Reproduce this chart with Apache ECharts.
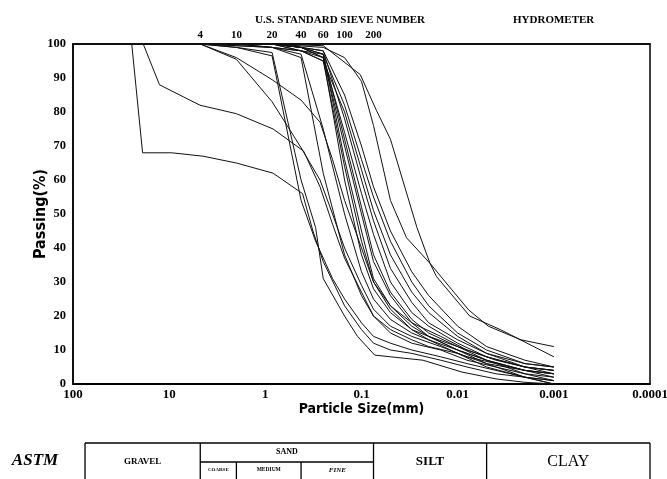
<!DOCTYPE html>
<html><head><meta charset="utf-8">
<script src="https://cdn.jsdelivr.net/npm/echarts@6/dist/echarts.min.js"></script>
<style>html,body{margin:0;padding:0;background:#fff}#main{width:667px;height:479px}</style>
</head><body><div id="main"></div>
<script>
// ---- axis / label data ----
const xTickLabels = ['100','10','1','0.1','0.01','0.001','0.0001'];
const yTicks = [0,10,20,30,40,50,60,70,80,90,100];
const sieveSizes = [4.75, 2.0, 0.85, 0.425, 0.25, 0.15, 0.075];
const sieveNumbers = ['4','10','20','40','60','100','200'];
// ASTM classification boundaries (mm)
const tableBounds = [75, 4.75, 2.0, 0.425, 0.075, 0.005, 0.0001];

// ---- gradation curves: [particle size mm, passing %] ----
const curveG1 = [[24.5,100],[18.9,68],[9.4,68],[4.45,67],[2.0,65],[0.83,62],[0.41,56],[0.32,45],[0.25,36],[0.15,23],[0.1,16],[0.075,12],[0.05,10],[0.03,9],[0.015,7],[0.008,5],[0.004,3],[0.002,2],[0.001,1]];
const curveG2 = [[18.6,100],[12.6,88],[4.78,82],[2.0,79.5],[0.83,75],[0.40,68.5],[0.27,58],[0.2,47],[0.15,37],[0.1,27],[0.075,20],[0.05,15],[0.03,12],[0.015,10],[0.008,7],[0.004,5],[0.002,3],[0.001,2]];
const curveS1 = [[4.75,100],[2.0,95.5],[0.85,83],[0.425,69.5],[0.27,60],[0.2,50],[0.15,40],[0.1,29],[0.075,22],[0.05,17],[0.03,14],[0.015,11],[0.008,8],[0.004,6],[0.002,4],[0.001,3]];
const curveS2 = [[4.75,100],[2.0,96],[0.85,89.5],[0.425,83.5],[0.27,77],[0.2,66],[0.15,54],[0.1,40],[0.075,30],[0.05,23],[0.03,18],[0.015,14],[0.008,10],[0.004,7],[0.002,5],[0.001,4]];
const curveM1 = [[4.75,100],[2.0,99],[0.85,96.5],[0.425,54],[0.3,42],[0.2,31],[0.15,25],[0.1,18],[0.075,14],[0.05,12],[0.03,10],[0.015,8],[0.008,6],[0.004,4],[0.002,2],[0.001,1]];
const curveM2 = [[4.75,100],[2.0,99],[0.85,97.5],[0.425,60],[0.3,46],[0.25,31],[0.15,20],[0.11,14],[0.073,8.5],[0.05,8],[0.023,7],[0.009,3.5],[0.004,1.5],[0.002,0.5],[0.001,0]];
const curveB1 = [[4.75,100],[2.0,99.5],[0.85,99],[0.425,96],[0.25,62],[0.15,38],[0.1,26],[0.075,20],[0.05,16],[0.03,13],[0.02,11],[0.01,9],[0.005,6],[0.002,4],[0.001,3]];
const curveB2 = [[4.75,100],[2.0,99.5],[0.85,99],[0.425,97],[0.25,75],[0.15,50],[0.1,33],[0.075,25],[0.05,19],[0.03,15],[0.02,13],[0.01,10],[0.005,7],[0.002,4],[0.001,3]];
const curveB3 = [[4.75,100],[2.0,100],[0.85,99],[0.425,98],[0.25,96],[0.15,60],[0.1,38],[0.075,28],[0.05,21],[0.03,16],[0.02,14],[0.01,11],[0.005,8],[0.002,5],[0.001,4]];
const curveB4 = [[4.75,100],[2.0,100],[0.85,100],[0.425,98],[0.25,97],[0.15,66],[0.1,45],[0.075,31],[0.05,23],[0.03,17],[0.02,14],[0.01,10],[0.005,7],[0.002,4],[0.001,2]];
const curveB5 = [[4.75,100],[2.0,100],[0.85,100],[0.425,99],[0.25,97],[0.15,72],[0.1,52],[0.075,38],[0.05,27],[0.03,19],[0.02,15],[0.01,11],[0.005,7],[0.002,3],[0.001,1]];
const curveB6 = [[4.75,100],[2.0,100],[0.85,100],[0.425,99],[0.25,96],[0.15,74],[0.1,56],[0.075,44],[0.05,30],[0.03,21],[0.02,17],[0.01,12],[0.005,8],[0.002,5],[0.001,3]];
const curveB7 = [[4.75,100],[2.0,100],[0.85,100],[0.425,99],[0.25,98],[0.15,78],[0.1,60],[0.075,48],[0.05,34],[0.03,24],[0.02,18],[0.01,13],[0.005,9],[0.002,6],[0.001,5]];
const curveB8 = [[4.75,100],[2.0,100],[0.85,100],[0.425,98],[0.25,95],[0.15,80],[0.1,63],[0.075,51],[0.05,38],[0.03,27],[0.02,21],[0.01,14],[0.005,9],[0.002,5],[0.001,4]];
const curveB9 = [[4.75,100],[2.0,100],[0.85,100],[0.425,99],[0.25,97],[0.15,82],[0.1,66],[0.075,55],[0.05,42],[0.03,30],[0.02,23],[0.01,15],[0.005,10],[0.002,6],[0.001,5]];
const curveB10 = [[4.75,100],[2.0,100],[0.85,100],[0.425,99],[0.25,98],[0.15,85],[0.1,70],[0.075,58],[0.05,45],[0.03,33],[0.02,26],[0.01,17],[0.005,11],[0.002,7],[0.001,5]];
const curveB11 = [[4.75,100],[2.0,100],[0.85,100],[0.425,99],[0.25,96],[0.15,70],[0.1,50],[0.075,36],[0.05,26],[0.03,18],[0.02,14],[0.01,10],[0.005,6],[0.002,2],[0.001,0]];
const curveB12 = [[4.75,100],[2.0,100],[0.85,99],[0.425,98],[0.25,95],[0.15,64],[0.1,42],[0.075,30],[0.05,22],[0.03,16],[0.02,13],[0.01,9],[0.005,5],[0.002,2],[0.001,0]];
const curveR1 = [[4.75,100],[0.85,100],[0.25,99.5],[0.103,91],[0.07,80.5],[0.05,72],[0.0265,46],[0.0194,35.5],[0.0122,28.6],[0.0077,21.8],[0.0048,17],[0.0022,13],[0.001,11]];
const curveR2 = [[4.75,100],[0.85,100],[0.25,99],[0.15,96],[0.1,89],[0.075,76],[0.05,54],[0.034,43],[0.0194,35.5],[0.0166,31.6],[0.0075,20],[0.0036,16],[0.001,8]];

const curves = [curveG1,curveG2,curveS1,curveS2,curveM1,curveM2,curveB1,curveB2,curveB3,curveB4,curveB5,curveB6,curveB7,curveB8,curveB9,curveB10,curveB11,curveB12,curveR1,curveR2];

const NARROW = "'Liberation Sans Narrow','DejaVu Sans Condensed','Liberation Sans',sans-serif";
const SERIF = "'Liberation Serif','DejaVu Serif',serif";

const chart = echarts.init(document.getElementById('main'));
const option = {
  animation: false,
  backgroundColor: '#fff',
  title: [
    {text: 'U.S. STANDARD SIEVE NUMBER', left: 250, top: 10, textStyle: {fontFamily: SERIF, fontWeight: 'bold', fontSize: 11, color: '#000'}},
    {text: 'HYDROMETER', left: 508, top: 10, textStyle: {fontFamily: SERIF, fontWeight: 'bold', fontSize: 11, color: '#000'}}
  ],
  grid: {left: 73, right: 17, top: 44, bottom: 95, outerBoundsMode: 'none', containLabel: false,
         show: true, borderColor: '#000', borderWidth: 1.5, backgroundColor: 'transparent'},
  xAxis: [
    {type: 'log', logBase: 10, min: 0.0001, max: 100, interval: 1, inverse: true, position: 'bottom',
     name: 'Particle Size(mm)', nameLocation: 'middle', nameGap: 18, nameMoveOverlap: false,
     nameTextStyle: {fontFamily: NARROW, fontWeight: 'bold', fontSize: 14, color: '#000', verticalAlign: 'top'},
     axisLine: {show: true, lineStyle: {color: '#000', width: 1.8}}, axisTick: {show: false}, splitLine: {show: false},
     axisLabel: {margin: 4, fontFamily: SERIF, fontWeight: 'bold', fontSize: 13, color: '#000',
       formatter: v => xTickLabels[Math.round(Math.log10(100 / v))]}},
    {type: 'log', logBase: 10, min: 0.0001, max: 100, inverse: true, position: 'top',
     axisLine: {show: true, lineStyle: {color: '#000', width: 1.5}}, axisTick: {show: false}, splitLine: {show: false},
     axisLabel: {show: true, customValues: sieveSizes, margin: 3, fontFamily: SERIF, fontWeight: 'bold', fontSize: 11, color: '#000',
       formatter: v => { let best = 0; sieveSizes.forEach((s, i) => { if (Math.abs(Math.log10(s) - Math.log10(v)) < Math.abs(Math.log10(sieveSizes[best]) - Math.log10(v))) best = i; }); return sieveNumbers[best]; }}}
  ],
  yAxis: {type: 'value', min: 0, max: 100, interval: 10,
    name: 'Passing(%)', nameLocation: 'middle', nameGap: 24, nameRotate: 90, nameMoveOverlap: false,
    nameTextStyle: {fontFamily: NARROW, fontWeight: 'bold', fontSize: 16, color: '#000'},
    axisLine: {show: true, lineStyle: {color: '#000', width: 1.5}}, axisTick: {show: false}, splitLine: {show: false},
    axisLabel: {margin: 7, fontFamily: SERIF, fontWeight: 'bold', fontSize: 12.5, color: '#000',
      customValues: yTicks}},
  series: curves.map((c, i) => ({
    type: 'line', name: 'c' + i, data: c, xAxisIndex: 0, showSymbol: false, symbol: 'none',
    lineStyle: {color: '#111', width: 1}, silent: true, z: 3
  }))
};
chart.setOption(option);

// ---- ASTM classification table, columns placed through the x scale ----
const px = v => chart.convertToPixel({xAxisIndex: 0}, v);
const T0 = 443, T1 = 462, T2 = 482;
const xb = tableBounds.map(px);
const lineEl = (x1, y1, x2, y2) => ({type: 'line', shape: {x1, y1, x2, y2}, style: {stroke: '#000', lineWidth: 1.3}, silent: true});
const textEl = (x, y, t, size, font, weight, italic) => ({type: 'text', x, y, style: {text: t, fill: '#000', align: 'center', verticalAlign: 'middle',
  font: (italic ? 'italic ' : '') + (weight || 'bold') + ' ' + size + 'px ' + font}, silent: true});
const g = [];
g.push(lineEl(xb[0], T0, xb[6], T0));
g.push(lineEl(xb[0], T2, xb[6], T2));
[0, 1, 4, 5, 6].forEach(i => g.push(lineEl(xb[i], T0, xb[i], T2)));
g.push(lineEl(xb[1], T1, xb[4], T1));
[2, 3].forEach(i => g.push(lineEl(xb[i], T1, xb[i], T2)));
g.push(textEl(35, 461, 'ASTM', 17, SERIF, 'bold', true));
g.push(textEl((xb[0] + xb[1]) / 2, 462, 'GRAVEL', 9, SERIF));
g.push(textEl((xb[1] + xb[4]) / 2, 452, 'SAND', 8, SERIF));
g.push(textEl((xb[1] + xb[2]) / 2, 470, 'COARSE', 5, SERIF));
g.push(textEl((xb[2] + xb[3]) / 2, 470, 'MEDIUM', 5.5, SERIF));
g.push(textEl((xb[3] + xb[4]) / 2, 470, 'FINE', 7, SERIF, 'bold', true));
g.push(textEl((xb[4] + xb[5]) / 2, 462, 'SILT', 13, SERIF));
g.push(textEl((xb[5] + xb[6]) / 2, 462, 'CLAY', 16, SERIF, 'normal'));
chart.setOption({graphic: {elements: g}});
</script>
</body></html>
